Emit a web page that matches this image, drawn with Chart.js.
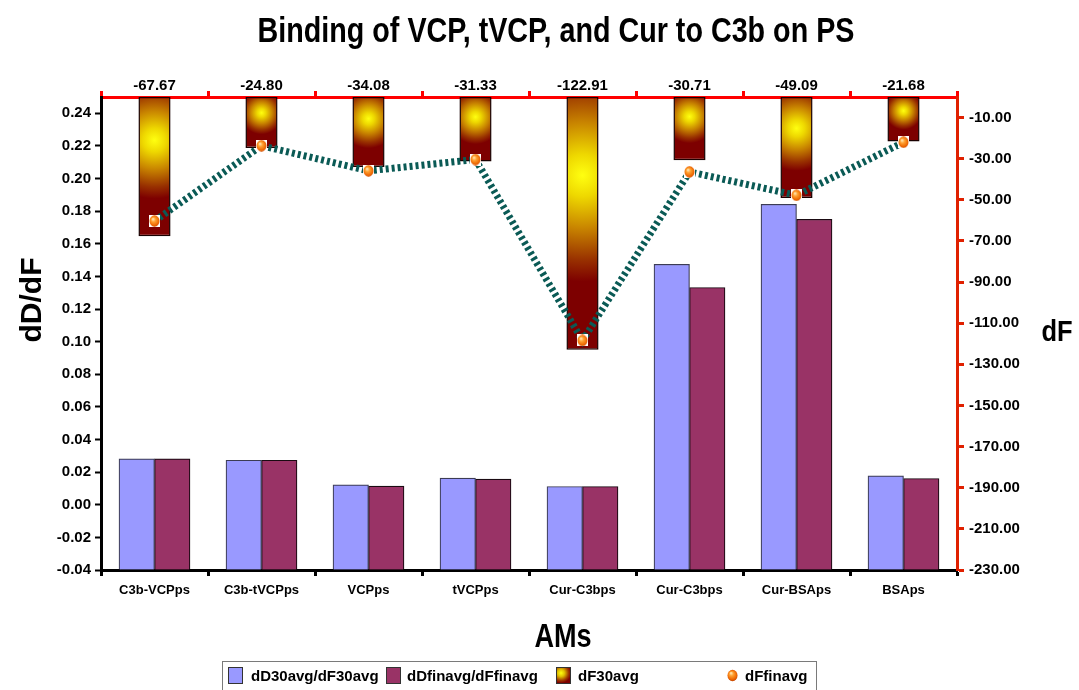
<!DOCTYPE html>
<html>
<head>
<meta charset="utf-8">
<script src="https://cdn.jsdelivr.net/npm/chart.js@4.4.1/dist/chart.umd.min.js"></script>
<style>
  html, body { margin: 0; padding: 0; background: #fff; }
  #wrap { width: 1079px; height: 690px; }
</style>
</head>
<body>
<div id="wrap"><canvas id="c" width="1079" height="690"></canvas></div>
<script>
// ---- data ----
const categories = ['C3b-VCPps', 'C3b-tVCPps', 'VCPps', 'tVCPps', 'Cur-C3bps', 'Cur-C3bps', 'Cur-BSAps', 'BSAps'];
const dD30avg_dF30avg = [0.0282, 0.0273, 0.0122, 0.0163, 0.0112, 0.1474, 0.1842, 0.0177];
const dDfinavg_dFfinavg = [0.0282, 0.0273, 0.0114, 0.0157, 0.0112, 0.1332, 0.1750, 0.0161];
const dF30avg = [-67.67, -24.80, -34.08, -31.33, -122.91, -30.71, -49.09, -21.68];
const dFfinavg = [-60.3, -23.7, -35.9, -30.4, -118.4, -36.4, -47.8, -22.0];
const ratioTicks = [-0.04, -0.03, -0.02, -0.01, 0.00, 0.01, 0.02, 0.03, 0.04, 0.05, 0.06, 0.07, 0.08, 0.09,
  0.10, 0.11, 0.12, 0.13, 0.14, 0.15, 0.16, 0.17, 0.18, 0.19, 0.20, 0.21, 0.22, 0.23, 0.24];
const dFTicks = [-230, -210, -190, -170, -150, -130, -110, -90, -70, -50, -30, -10];
const ratioRange = [-0.04, 0.25];
const dFRange = [-230, 0];

const FONT = '"Liberation Sans", Arial, Helvetica, sans-serif';
const BLUE = '#9999ff';
const MAROON = '#993366';

// radial "glow" fill for the dF30avg bars, centred in the upper part of each bar
function glowFill(ctx) {
  const chart = ctx.chart;
  const xs = chart.scales.x2, ys = chart.scales.y2;
  if (ctx.type !== 'data' || !xs || !ys) return '#7d0000';
  const cx = xs.getPixelForValue(ctx.dataIndex);
  const top = ys.getPixelForValue(0);
  const bottom = ys.getPixelForValue(ctx.raw);
  if (![cx, top, bottom].every(Number.isFinite)) return '#7d0000';
  const h = Math.abs(bottom - top);
  const cy = top + h * 0.31;
  const r = Math.max(h * 0.42, 18);
  const g = chart.ctx.createRadialGradient(cx, cy, 0, cx, cy, r);
  g.addColorStop(0, '#ffff10');
  g.addColorStop(0.2, '#eed800');
  g.addColorStop(0.5, '#c88400');
  g.addColorStop(0.8, '#983000');
  g.addColorStop(1, '#7d0000');
  return g;
}

// orange sphere marker on a small white tile
function makeMarker() {
  const c = document.createElement('canvas');
  c.width = 11; c.height = 12;
  const g = c.getContext('2d');
  g.fillStyle = '#ffffff';
  g.fillRect(0, 0, 11, 12);
  const grd = g.createRadialGradient(4, 4, 0.5, 5.5, 6, 6.5);
  grd.addColorStop(0, '#ffe0a8');
  grd.addColorStop(0.3, '#ffa030');
  grd.addColorStop(0.75, '#ec6400');
  grd.addColorStop(1, '#b83c00');
  g.fillStyle = grd;
  g.beginPath();
  g.ellipse(5.5, 6, 5, 5.8, 0, 0, Math.PI * 2);
  g.fill();
  return c;
}
const marker = makeMarker();

function drawSqueezed(ctx, text, x, y, size, sx, align) {
  ctx.save();
  ctx.translate(x, y);
  ctx.scale(sx, 1);
  ctx.font = 'bold ' + size + 'px ' + FONT;
  ctx.fillStyle = '#000';
  ctx.textAlign = align || 'center';
  ctx.textBaseline = 'alphabetic';
  ctx.fillText(text, 0, 0);
  ctx.restore();
}

// titles and legend box
const decorations = {
  id: 'decorations',
  afterDraw(chart) {
    const ctx = chart.ctx;
    drawSqueezed(ctx, 'Binding of VCP, tVCP, and Cur to C3b on PS', 556, 42, 35, 0.82);
    drawSqueezed(ctx, 'AMs', 563, 647, 33, 0.82);
    drawSqueezed(ctx, 'dF', 1057, 341, 30, 0.85);
    // rotated left title
    ctx.save();
    ctx.translate(41, 300);
    ctx.rotate(-Math.PI / 2);
    ctx.font = 'bold 30px ' + FONT;
    ctx.fillStyle = '#000';
    ctx.textAlign = 'center';
    ctx.textBaseline = 'alphabetic';
    ctx.fillText('dD/dF', 0, 0);
    ctx.restore();

    // legend
    ctx.save();
    ctx.strokeStyle = '#7a7a7a';
    ctx.lineWidth = 1;
    ctx.strokeRect(222.5, 661.5, 594, 40);
    const sy = 667, sh = 17, sw = 15;
    ctx.fillStyle = BLUE; ctx.fillRect(228, sy, sw, sh);
    ctx.strokeStyle = '#333'; ctx.strokeRect(228.5, sy + 0.5, sw - 1, sh - 1);
    ctx.fillStyle = MAROON; ctx.fillRect(386, sy, sw, sh);
    ctx.strokeRect(386.5, sy + 0.5, sw - 1, sh - 1);
    const lg = ctx.createRadialGradient(561, sy + 6, 0, 561, sy + 6, 10);
    lg.addColorStop(0, '#ffff10');
    lg.addColorStop(0.35, '#e0c000');
    lg.addColorStop(0.75, '#a03a00');
    lg.addColorStop(1, '#7d0000');
    ctx.fillStyle = lg; ctx.fillRect(556, sy, sw, sh);
    ctx.strokeRect(556.5, sy + 0.5, sw - 1, sh - 1);
    const dot = ctx.createRadialGradient(731, 673, 0.5, 732.5, 675.5, 6);
    dot.addColorStop(0, '#ffe0a8');
    dot.addColorStop(0.3, '#ffa030');
    dot.addColorStop(0.75, '#ec6400');
    dot.addColorStop(1, '#b83c00');
    ctx.fillStyle = dot;
    ctx.beginPath(); ctx.ellipse(732.5, 675.5, 5, 5.8, 0, 0, Math.PI * 2); ctx.fill();
    ctx.fillStyle = '#000';
    ctx.font = 'bold 15px ' + FONT;
    ctx.textBaseline = 'alphabetic';
    ctx.textAlign = 'left';
    ctx.fillText('dD30avg/dF30avg', 251, 681);
    ctx.fillText('dDfinavg/dFfinavg', 407, 681);
    ctx.fillText('dF30avg', 578, 681);
    ctx.fillText('dFfinavg', 745, 681);
    ctx.restore();
  }
};

const tickFont = { family: FONT, size: 15, weight: 'bold' };

new Chart(document.getElementById('c'), {
  type: 'bar',
  data: {
    labels: categories,
    datasets: [
      {
        type: 'line',
        label: 'dFfinavg',
        data: dFfinavg,
        xAxisID: 'x2',
        yAxisID: 'y2',
        order: 0,
        borderColor: '#0a5a55',
        borderWidth: 7,
        borderDash: [3, 3],
        borderCapStyle: 'butt',
        tension: 0,
        fill: false,
        pointStyle: marker,
        pointRadius: 6,
        pointHoverRadius: 6
      },
      {
        type: 'bar',
        label: 'dF30avg',
        data: dF30avg,
        xAxisID: 'x2',
        yAxisID: 'y2',
        order: 1,
        grouped: false,
        backgroundColor: glowFill,
        borderColor: '#1a0000',
        borderWidth: 1.5,
        borderSkipped: false,
        categoryPercentage: 0.3,
        barPercentage: 1
      },
      {
        type: 'bar',
        label: 'dD30avg/dF30avg',
        data: dD30avg_dF30avg,
        xAxisID: 'x',
        yAxisID: 'y',
        stack: 'a',
        base: ratioRange[0],
        order: 2,
        backgroundColor: BLUE,
        borderColor: '#3c3c55',
        borderWidth: 1.2,
        barThickness: 35.5
      },
      {
        type: 'bar',
        label: 'dDfinavg/dFfinavg',
        data: dDfinavg_dFfinavg,
        xAxisID: 'x',
        yAxisID: 'y',
        stack: 'b',
        base: ratioRange[0],
        order: 2,
        backgroundColor: MAROON,
        borderColor: '#1a0a12',
        borderWidth: 1.2,
        barThickness: 35.5
      }
    ]
  },
  options: {
    responsive: false,
    animation: false,
    devicePixelRatio: 1,
    layout: { padding: 0 },
    plugins: {
      legend: { display: false },
      title: { display: false },
      tooltip: { enabled: false }
    },
    scales: {
      x: {
        type: 'category',
        position: 'bottom',
        offset: true,
        grid: { display: true, drawOnChartArea: false, offset: true, tickLength: 6, tickColor: '#000', tickWidth: 3 },
        border: { display: true, color: '#000', width: 3 },
        ticks: { color: '#000', font: { family: FONT, size: 13, weight: 'bold' }, padding: 7, maxRotation: 0, autoSkip: false },
        afterFit(s) { s.height = 120; }
      },
      x2: {
        type: 'category',
        position: 'top',
        offset: true,
        labels: categories,
        grid: { display: true, drawOnChartArea: false, offset: true, tickLength: 6, tickColor: '#ff0000', tickWidth: 3 },
        border: { display: true, color: '#ff0000', width: 3 },
        ticks: {
          color: '#000', font: tickFont, padding: -4, maxRotation: 0, autoSkip: false,
          callback: (v, i) => dF30avg[i].toFixed(2)
        },
        afterFit(s) { s.height = 97; }
      },
      y: {
        type: 'linear',
        position: 'left',
        min: ratioRange[0],
        max: ratioRange[1],
        afterBuildTicks(s) { s.ticks = ratioTicks.map(v => ({ value: v })); },
        grid: { display: true, drawOnChartArea: false, tickLength: 6, tickColor: '#000', tickWidth: 2 },
        border: { display: true, color: '#000', width: 3 },
        ticks: {
          color: '#000', font: tickFont, padding: 4,
          callback: v => (Math.round(v * 100) % 2 === 0 ? v.toFixed(2) : '')
        },
        afterFit(s) { s.width = 101; }
      },
      y2: {
        type: 'linear',
        position: 'right',
        min: dFRange[0],
        max: dFRange[1],
        afterBuildTicks(s) { s.ticks = dFTicks.map(v => ({ value: v })); },
        grid: { display: true, drawOnChartArea: false, tickLength: 7, tickColor: '#e02000', tickWidth: 3 },
        border: { display: true, color: '#e02000', width: 3 },
        ticks: { color: '#000', font: tickFont, padding: 5, callback: v => v.toFixed(2) },
        afterFit(s) { s.width = 122; }
      }
    }
  },
  plugins: [decorations]
});
</script>
</body>
</html>
